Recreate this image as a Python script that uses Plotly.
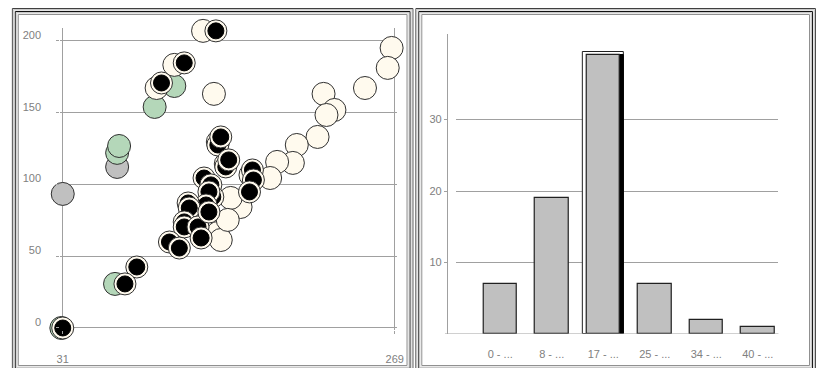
import plotly.graph_objects as go

W, H = 817, 368

# ---------------- data ----------------
# scatter (left panel)
cream_x = [131.6, 111.0, 98.3, 139.4, 266.8, 264.0, 247.7, 218.0, 225.8, 220.1, 213.7, 198.8,
           196.0, 184.7, 179.7, 158.5, 151.4, 142.2, 144.3, 149.3, 142.2, 147.9, 165.6]
cream_y = [207.0, 183.3, 167.2, 163.1, 195.1, 181.2, 167.2, 163.1, 151.9, 148.4, 133.1, 127.5,
           115.0, 115.7, 104.5, 84.3, 90.6, 66.2, 61.3, 75.3, 129.6, 114.3, 106.6]
green_x = [111.0, 96.9, 70.0, 71.4, 68.5, 30.0]
green_y = [168.6, 154.0, 122.0, 126.8, 30.7, 0.0]
gray_x = [70.0, 31.0]
gray_y = [112.2, 93.4]
sel_x = [31.0, 140.8, 118.1, 101.8, 142.2, 144.3, 147.9, 150.0, 167.0, 167.7, 164.9, 132.3,
         137.2, 138.6, 135.8, 133.7, 120.9, 121.7, 118.1, 118.1, 128.0, 135.8, 130.2, 107.5,
         114.6, 84.1, 75.6]
sel_y = [0.0, 207.0, 184.7, 170.7, 127.5, 133.1, 112.2, 117.1, 110.1, 103.1, 94.8, 104.5,
         99.7, 91.3, 94.8, 85.7, 87.1, 83.6, 73.9, 70.4, 70.4, 80.8, 62.7, 59.9,
         55.7, 42.5, 30.7]
x_ticks = [31, 269]
y_ticks = [0, 50, 100, 150, 200]

# histogram (right panel)
hist_labels = ["0 - ...", "8 - ...", "17 - ...", "25 - ...", "34 - ...", "40 - ..."]
hist_counts = [7, 19, 39, 7, 2, 1]
selected_bin = 2
hist_ticks = [10, 20, 30]

# ---------------- styles ----------------
FONT = dict(family="Liberation Sans, Arial, sans-serif", size=11, color="#808080")
GRID = "#a0a0a0"
OUTLINE = "#303030"

fig = go.Figure()

def dots(xs, ys, color):
    fig.add_trace(go.Scatter(
        x=xs, y=ys, mode="markers", cliponaxis=False, hoverinfo="x+y",
        marker=dict(size=23, color=color, opacity=1, line=dict(color=OUTLINE, width=1)),
        xaxis="x", yaxis="y", showlegend=False))

dots(gray_x, gray_y, "#c0c0c0")
dots(green_x, green_y, "#b4d7b9")
dots(cream_x, cream_y, "#fffaee")
for px, py in zip(sel_x, sel_y):
    # white ring with dark outline, then black core (one pair per point keeps layering)
    fig.add_trace(go.Scatter(
        x=[px, px], y=[py, py], mode="markers", cliponaxis=False, hoverinfo="skip",
        marker=dict(size=[22, 16], color=["#fffaee", "#000000"], opacity=1,
                    line=dict(color=[OUTLINE, "#000000"], width=1)),
        xaxis="x", yaxis="y", showlegend=False))

idx = list(range(len(hist_labels)))
BW = 0.651
fig.add_trace(go.Bar(
    x=[selected_bin], y=[hist_counts[selected_bin] + 0.5], width=0.81,
    marker=dict(color="#ffffff", line=dict(color="#202020", width=1)),
    xaxis="x2", yaxis="y2", showlegend=False, hoverinfo="skip"))
fig.add_trace(go.Bar(
    x=[selected_bin], y=[hist_counts[selected_bin]], width=BW, offset=-BW / 2 + 0.08,
    marker=dict(color="#000000", line=dict(color="#000000", width=1)),
    xaxis="x2", yaxis="y2", showlegend=False, hoverinfo="skip"))
fig.add_trace(go.Bar(
    x=idx, y=hist_counts, width=BW,
    marker=dict(color="#c0c0c0", line=dict(color="#202020", width=1.2)),
    xaxis="x2", yaxis="y2", showlegend=False))

# panel frames (3D-style borders)
shapes = []
frame_lines = [(0, "#404040"), (1, "#c8c8c8"), (2, "#e4e4e4"), (3, "#101010"),
               (4, "#c8c8c8"), (5, "#e8e8e8"), (6, "#909090")]
for (l, t, r, b) in [(8, 8, 415, 372), (417, 8, 823, 372)]:
    for off, col in frame_lines:
        shapes.append(dict(type="rect", xref="paper", yref="paper",
                           x0=(l + off + 0.5) / W, x1=(r - off - 0.5) / W,
                           y0=1 - (b - off - 0.5) / H, y1=1 - (t + off + 0.5) / H,
                           line=dict(color=col, width=1), fillcolor="rgba(0,0,0,0)",
                           layer="above"))
# histogram baseline
shapes.append(dict(type="line", xref="paper", yref="y2", x0=447 / W, x1=785 / W,
                   y0=0, y1=0, line=dict(color=GRID, width=1)))

fig.update_layout(
    width=W, height=H, autosize=False,
    margin=dict(l=0, r=0, t=0, b=0),
    paper_bgcolor="#ffffff", plot_bgcolor="#ffffff",
    barmode="overlay", bargap=0,
    font=FONT,
    shapes=shapes,
    xaxis=dict(domain=[57 / W, 398 / W], range=[29.2, 270.4], tickvals=x_ticks,
               showgrid=True, gridcolor=GRID, gridwidth=1, zeroline=False, showline=False,
               ticks="outside", ticklen=3, tickcolor=GRID, tickfont=FONT,
               ticklabelstandoff=16, anchor="y", fixedrange=True),
    yaxis=dict(domain=[1 - 330 / H, 1 - 28 / H], range=[-1.4, 209], tickvals=y_ticks,
               showgrid=True, gridcolor=GRID, gridwidth=1, zeroline=False, showline=False,
               ticks="outside", ticklen=3, tickcolor=GRID, tickfont=FONT,
               ticklabelstandoff=13, ticklabelshift=-6, anchor="x", fixedrange=True),
    xaxis2=dict(domain=[458 / W, 785 / W], range=[-0.862, 5.402], tickvals=idx,
                ticktext=hist_labels, showgrid=False, zeroline=False, showline=False,
                ticks="", tickfont=FONT, ticklabelstandoff=12, anchor="y2", fixedrange=True),
    yaxis2=dict(domain=[1 - 334 / H, 1 - 34 / H], range=[0, 41.96], tickvals=hist_ticks,
                showgrid=True, gridcolor=GRID, gridwidth=1, zeroline=False,
                showline=True, linecolor=GRID, linewidth=1,
                ticks="outside", ticklen=3, tickcolor=GRID, tickfont=FONT,
                ticklabelstandoff=0, anchor="free", position=449 / W, fixedrange=True),
)

fig.write_html(
    "out.html", config={"displayModeBar": False},
    post_script=("document.documentElement.style.margin='0';"
                 "document.documentElement.style.overflow='hidden';"
                 "document.body.style.margin='0';document.body.style.overflow='hidden';"))
